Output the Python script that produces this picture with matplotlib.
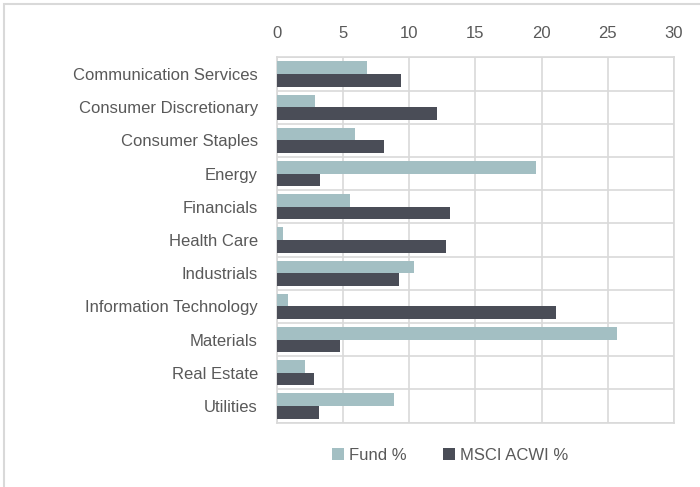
import numpy as np
import matplotlib.pyplot as plt
from matplotlib.patches import Rectangle
from matplotlib import font_manager

sectors = ["Communication Services", "Consumer Discretionary", "Consumer Staples",
           "Energy", "Financials", "Health Care", "Industrials",
           "Information Technology", "Materials", "Real Estate", "Utilities"]
fund = [6.8, 2.9, 5.9, 19.6, 5.5, 0.45, 10.35, 0.85, 25.7, 2.15, 8.85]
msci = [9.4, 12.1, 8.1, 3.25, 13.05, 12.75, 9.25, 21.1, 4.75, 2.8, 3.2]

names = {f.name for f in font_manager.fontManager.ttflist}
fam = "Liberation Sans Narrow" if "Liberation Sans Narrow" in names else "Liberation Sans"
plt.rcParams['font.family'] = [fam, 'DejaVu Sans']

txt = "#595959"
fig = plt.figure(figsize=(7, 4.87), dpi=100)
ax = fig.add_axes([276.7 / 700, 1 - 422.7 / 487, (674 - 276.7) / 700, (422.7 - 57.3) / 487])

y = np.arange(len(sectors))
h = 0.38
ax.barh(y - h / 2, fund, height=h, color="#a3bfc3", label="Fund %", zorder=3)
ax.barh(y + h / 2, msci, height=h, color="#4a4d57", label="MSCI ACWI %", zorder=3)

ax.set_xlim(0, 30)
ax.set_ylim(len(sectors) - 0.5, -0.5)
ax.set_xticks(range(0, 31, 5))
ax.set_yticks(y)
ax.set_yticklabels(sectors)
ax.set_yticks(np.arange(-0.5, len(sectors), 1), minor=True)
ax.xaxis.tick_top()
ax.tick_params(axis='both', which='both', length=0, colors=txt, labelsize=12)
ax.tick_params(axis='x', pad=12)
ax.tick_params(axis='y', pad=13.5)
ax.grid(axis='x', color="#d9d9d9", lw=1.2, zorder=0)
ax.grid(axis='y', which='minor', color="#d9d9d9", lw=1.2, zorder=0)
for s in ax.spines.values():
    s.set_color("#d9d9d9")
    s.set_linewidth(1.2)

ax.legend(loc='center', bbox_to_anchor=(450 / 700, 1 - 455 / 487), bbox_transform=fig.transFigure,
          ncol=2, frameon=False, fontsize=12, labelcolor=txt, handlelength=0.7,
          handleheight=0.7, handletextpad=0.3, columnspacing=2.2)

fig.patches.append(Rectangle((4 / 700, -0.1), 1.2, 1.1 - 4 / 487, transform=fig.transFigure,
                             fill=False, edgecolor="#d9d9d9", lw=1.5))

fig.savefig("out.png", dpi=100)
